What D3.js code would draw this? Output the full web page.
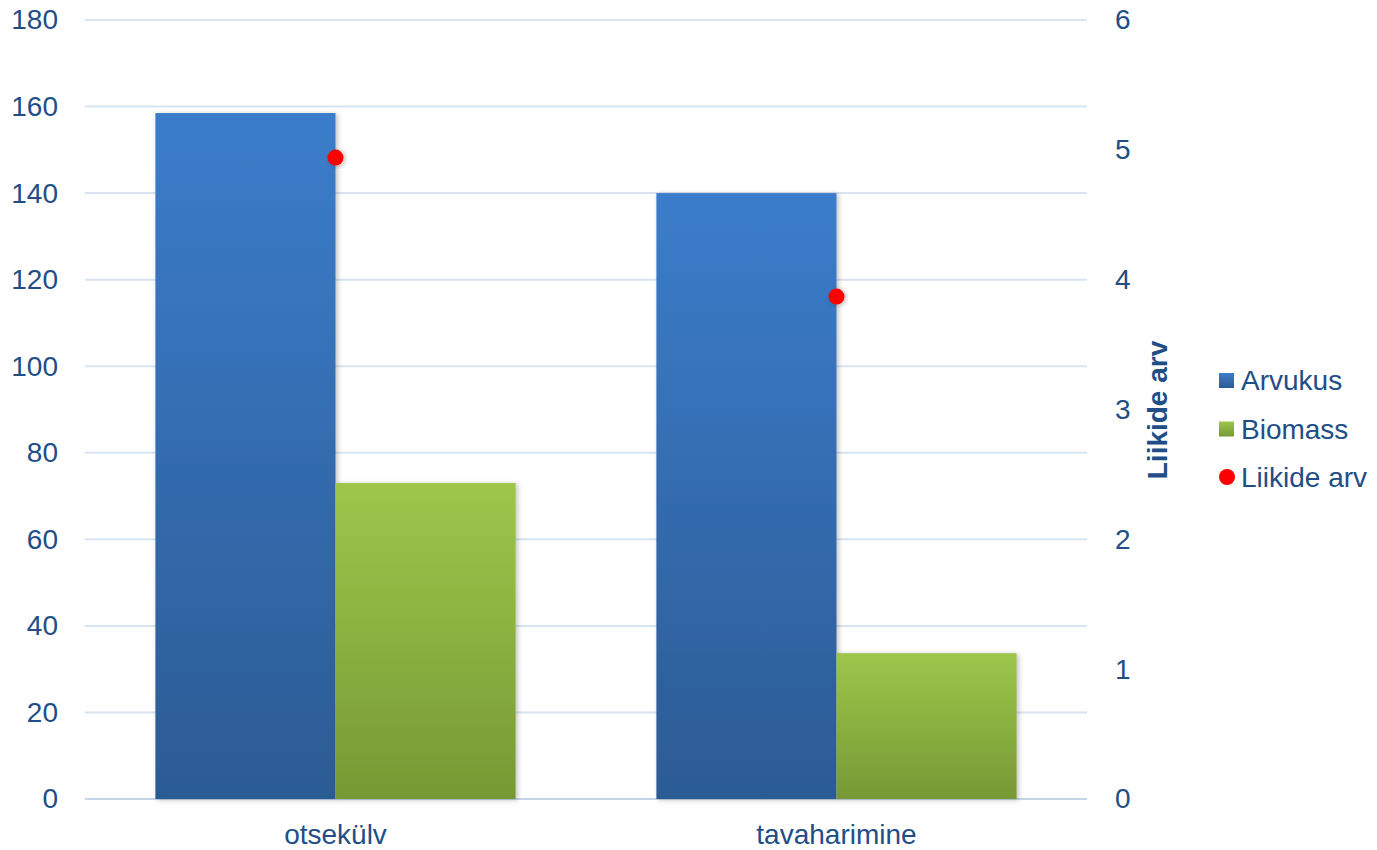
<!DOCTYPE html>
<html>
<head>
<meta charset="utf-8">
<script src="https://cdn.jsdelivr.net/npm/d3@7"></script>
<style>
  body { margin: 0; background: #fff; }
  text { font-family: "Liberation Sans", Arial, sans-serif; fill: #214e86; }
</style>
</head>
<body>
<div id="chart"></div>
<script>
// data
const categories = ['otsekülv', 'tavaharimine'];
const arvukus = [158.5, 140.0];
const biomass = [73.0, 33.7];
const liikideArv = [4.94, 3.87];
const leftTicks = [0, 20, 40, 60, 80, 100, 120, 140, 160, 180];
const rightTicks = [0, 1, 2, 3, 4, 5, 6];
const seriesNames = ['Arvukus', 'Biomass', 'Liikide arv'];

const W = 1377, H = 850;
const margin = { left: 85, right: 290, top: 20, bottom: 51 };
const innerW = W - margin.left - margin.right;
const innerH = H - margin.top - margin.bottom;
const FS = '28px';

const svg = d3.select('#chart').append('svg')
  .attr('width', W).attr('height', H);

const defs = svg.append('defs');
function grad(id, top, bottom) {
  const g = defs.append('linearGradient').attr('id', id)
    .attr('x1', 0).attr('y1', 0).attr('x2', 0).attr('y2', 1);
  g.append('stop').attr('offset', '0%').attr('stop-color', top);
  g.append('stop').attr('offset', '100%').attr('stop-color', bottom);
}
grad('gBlue', '#3b7dcb', '#2c5b94');
grad('gGreen', '#9dc64b', '#779934');
const sh = defs.append('filter').attr('id', 'shadow')
  .attr('x', '-10%').attr('y', '-10%').attr('width', '130%').attr('height', '130%');
sh.append('feDropShadow').attr('dx', 2).attr('dy', 1).attr('stdDeviation', 2.5)
  .attr('flood-color', '#000').attr('flood-opacity', 0.25);

const g = svg.append('g').attr('transform', `translate(${margin.left},${margin.top})`);

const x0 = d3.scaleBand().domain(categories).range([0, innerW]).paddingInner(0.281).paddingOuter(0.1405);
const x1 = d3.scaleBand().domain(['Arvukus', 'Biomass']).range([0, x0.bandwidth()]);
const yL = d3.scaleLinear().domain([0, 180]).range([innerH, 0]);
const yR = d3.scaleLinear().domain([0, 6]).range([innerH, 0]);

// gridlines
g.selectAll('.grid').data(leftTicks).join('line')
  .attr('x1', 0).attr('x2', innerW)
  .attr('y1', d => yL(d)).attr('y2', d => yL(d))
  .attr('stroke', d => d === 0 ? '#c6d6ea' : '#d9e4f2').attr('stroke-width', 2);

// left axis
const axL = g.append('g').call(d3.axisLeft(yL).tickValues(leftTicks).tickSize(0).tickPadding(27));
axL.select('.domain').remove();
axL.selectAll('text').style('font-size', FS).attr('fill', '#214e86');

// right axis
const axR = g.append('g').attr('transform', `translate(${innerW},0)`)
  .call(d3.axisRight(yR).tickValues(rightTicks).tickFormat(d3.format('d')).tickSize(0).tickPadding(28));
axR.select('.domain').remove();
axR.selectAll('text').style('font-size', FS).attr('fill', '#214e86');

// x axis
const axX = g.append('g').attr('transform', `translate(0,${innerH})`)
  .call(d3.axisBottom(x0).tickSize(0).tickPadding(25));
axX.select('.domain').remove();
axX.selectAll('text').style('font-size', FS).attr('fill', '#214e86');

// bars
const groups = g.selectAll('.grp').data(categories).join('g')
  .attr('transform', d => `translate(${x0(d)},0)`);
groups.append('rect')
  .attr('x', x1('Arvukus')).attr('width', x1.bandwidth())
  .attr('y', (d, i) => yL(arvukus[i])).attr('height', (d, i) => innerH - yL(arvukus[i]))
  .attr('fill', 'url(#gBlue)').attr('filter', 'url(#shadow)');
groups.append('rect')
  .attr('x', x1('Biomass')).attr('width', x1.bandwidth())
  .attr('y', (d, i) => yL(biomass[i])).attr('height', (d, i) => innerH - yL(biomass[i]))
  .attr('fill', 'url(#gGreen)').attr('filter', 'url(#shadow)');

// dots
g.selectAll('.dot').data(categories).join('circle')
  .attr('cx', d => x0(d) + x0.bandwidth() / 2)
  .attr('cy', (d, i) => yR(liikideArv[i]))
  .attr('r', 8).attr('fill', '#ff0000').attr('filter', 'url(#shadow)');

// right axis title
svg.append('text')
  .attr('transform', 'translate(1167,410) rotate(-90)')
  .attr('text-anchor', 'middle')
  .style('font-size', FS).style('font-weight', 'bold')
  .text('Liikide arv');

// legend
const leg = svg.append('g').attr('transform', 'translate(1219,380)');
seriesNames.forEach((name, i) => {
  const row = leg.append('g').attr('transform', `translate(0,${i * 48.5})`);
  if (i === 0) row.append('rect').attr('x', 0).attr('y', -7).attr('width', 15).attr('height', 15).attr('fill', 'url(#gBlue)');
  if (i === 1) row.append('rect').attr('x', 0).attr('y', -7).attr('width', 15).attr('height', 15).attr('fill', 'url(#gGreen)');
  if (i === 2) row.append('circle').attr('cx', 8).attr('cy', 0).attr('r', 8).attr('fill', '#ff0000');
  row.append('text').attr('x', 22).attr('y', 10)
    .style('font-size', FS).text(name);
});
</script>
</body>
</html>
